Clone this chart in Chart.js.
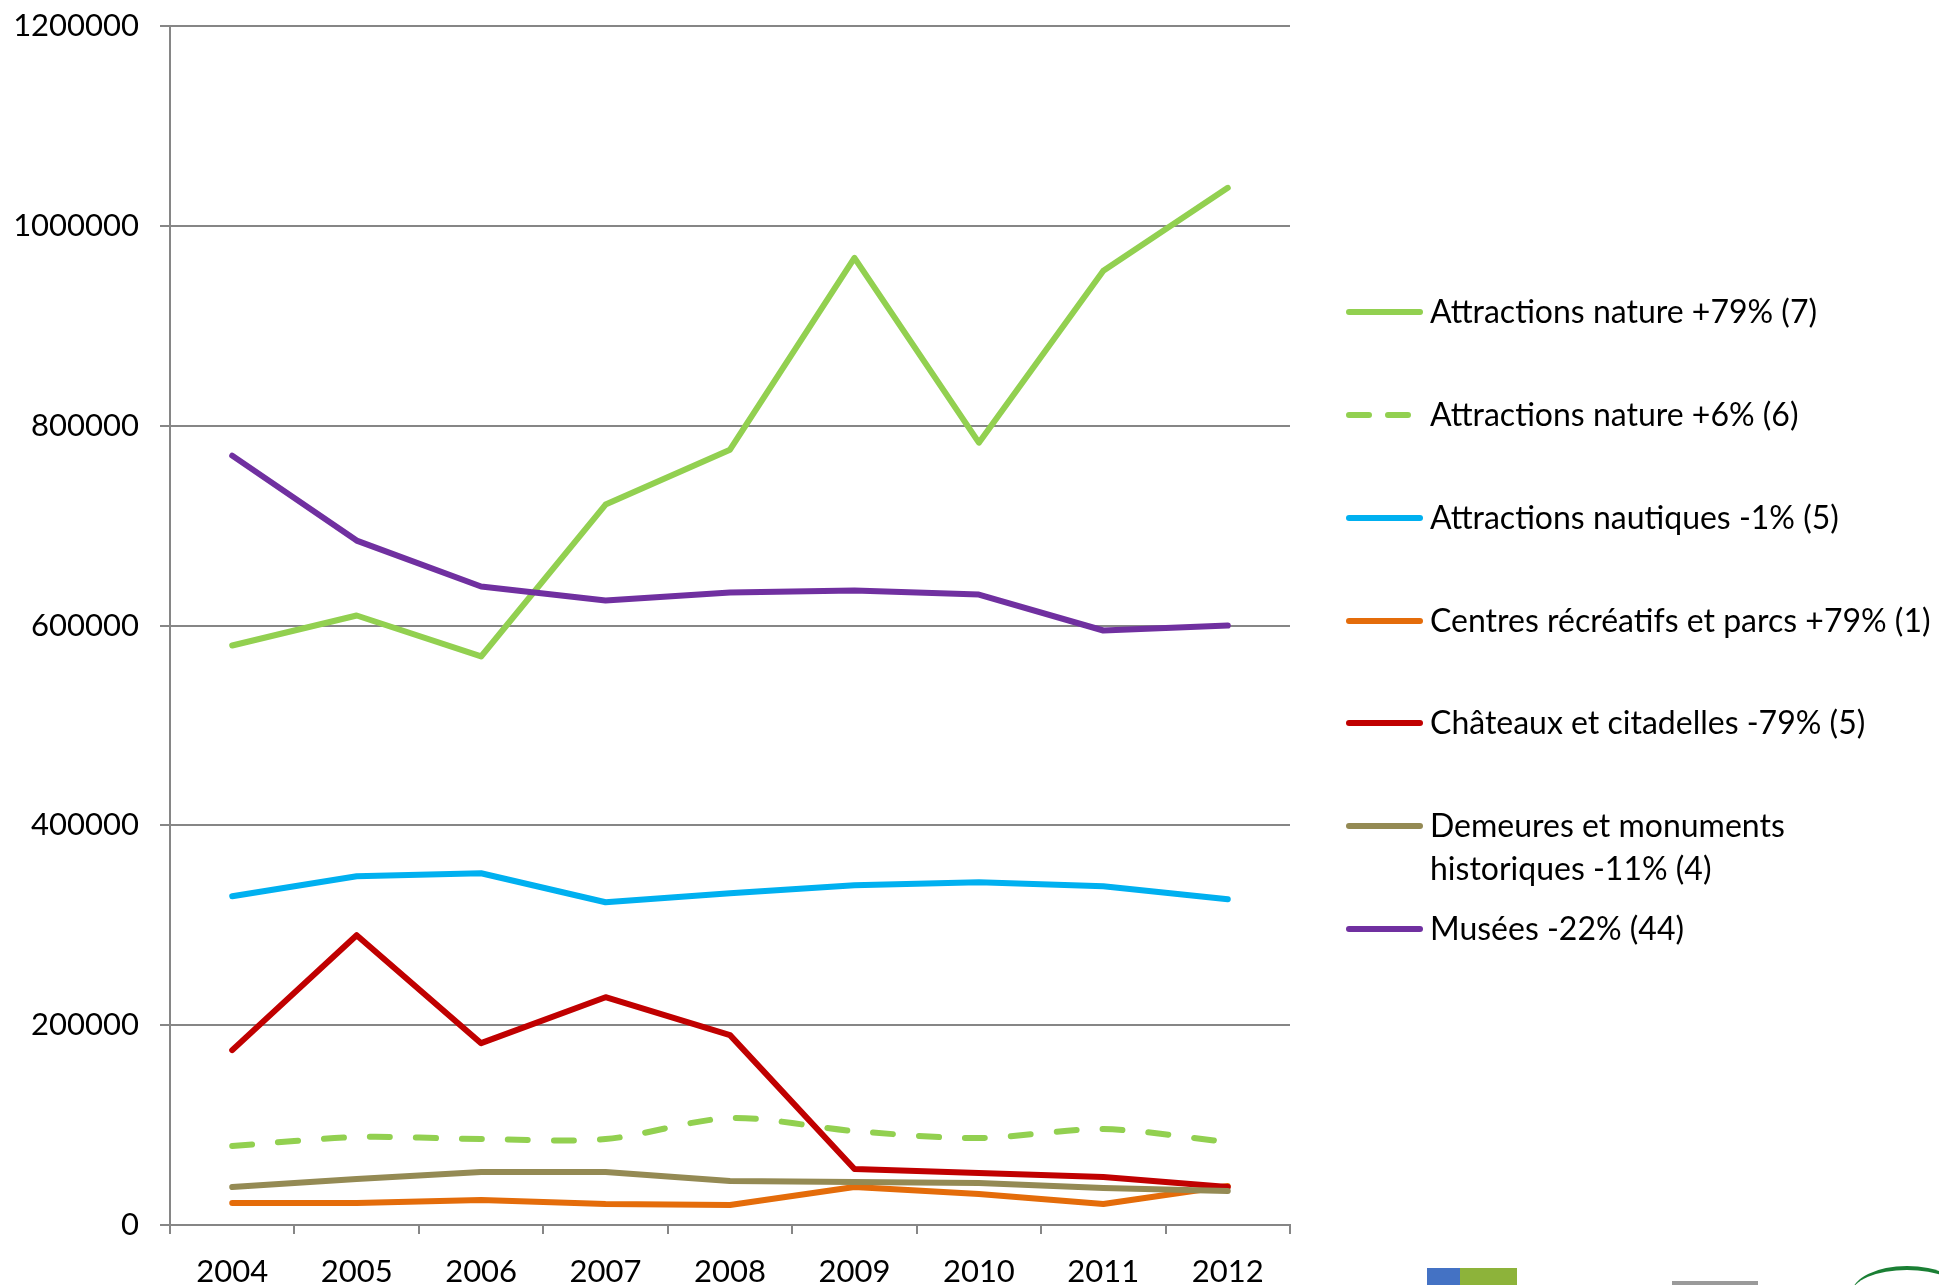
<!DOCTYPE html>
<html>
<head>
<meta charset="utf-8">
<title>Fréquentation des attractions 2004-2012</title>
<script src="https://cdn.jsdelivr.net/npm/chart.js@4.4.1/dist/chart.umd.min.js"></script>
<style>
  html, body { margin: 0; padding: 0; background: #fff; overflow: hidden; }
  #wrap { position: relative; width: 1939px; height: 1285px; }
  #chart { position: absolute; left: 0; top: 0; }
  #legend { position: absolute; left: 1345px; top: 0; font-family: Lato, "Open Sans", sans-serif; font-size: 32px; color: #000; }
  .item { position: absolute; left: 0; white-space: pre; line-height: 43px; }
  .item svg { position: absolute; left: 0; top: 17px; }
  .item span { position: absolute; left: 85px; top: 0; }
  .logo { position: absolute; }
</style>
</head>
<body>
<div id="wrap">
  <canvas id="chart" width="1939" height="1285"></canvas>
  <div id="legend"></div>
  <div class="logo" style="left:1427px;top:1268px;width:33px;height:17px;background:#4472c4"></div>
  <div class="logo" style="left:1460px;top:1268px;width:57px;height:17px;background:#8db33a"></div>
  <div class="logo" style="left:1672px;top:1281px;width:86px;height:4px;background:#9a9a9a"></div>
  <div class="logo" style="left:1852px;top:1266px;width:110px;height:50px;border-top:4px solid #1a7f34;border-radius:50%"></div>
</div>
<script>
// années
const years = ["2004", "2005", "2006", "2007", "2008", "2009", "2010", "2011", "2012"];

// visiteurs par catégorie
const natureGrand = [580000, 610000, 569000, 721000, 776000, 968000, 783000, 955000, 1038000];
const natureSmall = [79000, 88000, 86000, 86000, 107000, 94000, 87000, 96000, 83000];
const nautiques = [329000, 349000, 352000, 323000, 332000, 340000, 343000, 339000, 326000];
const centres = [22000, 22000, 25000, 21000, 20000, 38000, 31000, 21000, 39000];
const chateaux = [175000, 290000, 182000, 228000, 190000, 56000, 52000, 48000, 38000];
const demeures = [38000, 46000, 53000, 53000, 44000, 43000, 42000, 37000, 34000];
const musees = [770000, 685000, 639000, 625000, 633000, 635000, 631000, 595000, 600000];

const seriesNames = [
	"Attractions nature +79% (7)",
	"Attractions nature +6% (6)",
	"Attractions nautiques -1% (5)",
	"Centres récréatifs et parcs +79% (1)",
	"Châteaux et citadelles -79% (5)",
	"Demeures et monuments\nhistoriques -11% (4)",
	"Musées -22% (44)",
];
const seriesValues = [natureGrand, natureSmall, nautiques, centres, chateaux, demeures, musees];
const seriesColors = ["#92d050", "#92d050", "#00b0f0", "#e46c0a", "#c00000", "#948a54", "#7030a0"];
const seriesDashed = [false, true, false, false, false, false, false];

const yMax = 1200000;
const yStep = 200000;

const gridColor = "#868686";

const datasets = seriesNames.map((name, i) => ({
	label: name,
	data: seriesValues[i],
	borderColor: seriesColors[i],
	backgroundColor: seriesColors[i],
	borderWidth: 6,
	borderDash: seriesDashed[i] ? [20, 26] : [],
	borderCapStyle: "round",
	borderJoinStyle: "round",
	tension: seriesDashed[i] ? 0.3 : 0,
	pointRadius: 0,
	fill: false,
	// later series drawn on top, like the original
	order: seriesNames.length - i,
}));

const chart = new Chart(document.getElementById("chart"), {
	type: "line",
	data: { labels: years, datasets: datasets },
	options: {
		responsive: false,
		animation: false,
		events: [],
		layout: { padding: { top: 26, right: 649, bottom: 0, left: 0 } },
		plugins: { legend: { display: false }, tooltip: { enabled: false } },
		scales: {
			x: {
				type: "category",
				offset: true,
				grid: {
					display: true,
					drawOnChartArea: false,
					drawTicks: true,
					tickLength: 9,
					offset: true,
					color: gridColor,
					lineWidth: 2,
				},
				border: { display: true, color: gridColor, width: 2 },
				ticks: {
					color: "#000",
					font: { family: "Lato", size: 31 },
					padding: 19,
					maxRotation: 0,
					autoSkip: false,
				},
				afterFit: (scale) => { scale.height = 60; },
			},
			y: {
				min: 0,
				max: yMax,
				grid: {
					color: gridColor,
					lineWidth: 2,
					drawTicks: true,
					tickLength: 10,
				},
				border: { display: true, color: gridColor, width: 2 },
				ticks: {
					stepSize: yStep,
					color: "#000",
					font: { family: "Lato", size: 31 },
					padding: 21,
					callback: (v) => String(v),
				},
				afterFit: (scale) => {
					scale.width = 170;
					scale.paddingTop = 0;
					scale.paddingBottom = 0;
				},
			},
		},
	},
});

// légende
const legend = document.getElementById("legend");
const firstRow = 289;
const rowStep = 102.85;
chart.data.datasets.forEach((ds, i) => {
	const item = document.createElement("div");
	item.className = "item";
	item.style.top = (firstRow + i * rowStep) + "px";
	item.innerHTML =
		'<svg width="80" height="12"><line x1="4" y1="6" x2="75" y2="6" stroke="' + ds.borderColor +
		'" stroke-width="6" stroke-linecap="round" stroke-dasharray="' + (ds.borderDash.length ? "20 19" : "none") + '"/></svg>';
	const txt = document.createElement("span");
	txt.textContent = ds.label;
	item.appendChild(txt);
	legend.appendChild(item);
});
</script>
</body>
</html>
